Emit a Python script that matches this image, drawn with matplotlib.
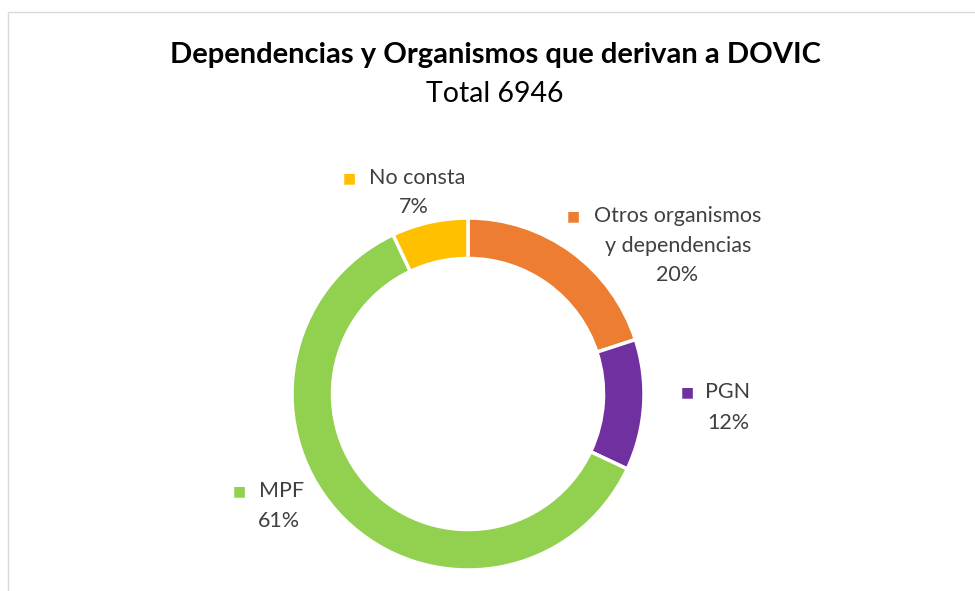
import matplotlib
matplotlib.use("Agg")
import matplotlib.pyplot as plt
from matplotlib.patches import Rectangle

# data
categories = ["Otros organismos\ny dependencias", "PGN", "MPF", "No consta"]
shares = [20, 12, 61, 7]
colors = ["#ED7D31", "#7030A0", "#92D050", "#FFC000"]
total = 6946

W, H = 975, 591
CX, CY, R = 468, 394, 176  # pie centre / radius in pixels

# label anchors in pixels: (marker x, first line centre x, first line y, pct centre x, pct y)
LABEL_PX = {
    "Otros organismos\ny dependencias": (573, 678, 216, 677, 275),
    "PGN": (687, 728, 392, 728, 423),
    "MPF": (239, 282, 491, 279, 521),
    "No consta": (349, 417, 178, 414, 207),
}

plt.rcParams["font.family"] = ["Lato", "DejaVu Sans"]
TXT = "#404040"


def px(x, y):
    return (x - CX) / R, (CY - y) / R


fig = plt.figure(figsize=(W / 100, H / 100), dpi=100)
ax = fig.add_axes([0, 0, 1, 1])
ax.axis("off")

ax.pie(shares, colors=colors, startangle=90, counterclock=False, radius=1,
       wedgeprops=dict(width=0.23, edgecolor="white", linewidth=2.5))
ax.set_xlim(-CX / R, (W - CX) / R)
ax.set_ylim(-(H - CY) / R, CY / R)
ax.set_aspect("auto")

# outer frame of the chart area
fig.patches.append(Rectangle((8 / W, -0.1), 1.2, 1 - 12 / H + 0.1,
                             transform=fig.transFigure, fill=False,
                             edgecolor="#D9D9D9", linewidth=1))

for cat, share, col in zip(categories, shares, colors):
    mx, tx, ty, pxx, py = LABEL_PX[cat]
    lines = cat.split("\n")
    ax.text(*px(mx, ty), "■", color=col, fontsize=10, ha="center", va="center")
    for i, line in enumerate(lines):
        ax.text(*px(tx, ty + i * 30), line, color=TXT, fontsize=15.5,
                ha="center", va="center")
    ax.text(*px(pxx, py), f"{share}%", color=TXT, fontsize=15.5,
            ha="center", va="center")

fig.text(495 / W, 1 - 55 / H, "Dependencias y Organismos que derivan a DOVIC",
         fontsize=21, fontweight="bold", color="#000000", ha="center", va="center")
fig.text(495 / W, 1 - 94 / H, f"Total {total}", fontsize=20.5,
         color="#000000", ha="center", va="center")

fig.savefig("out.png", dpi=100)
